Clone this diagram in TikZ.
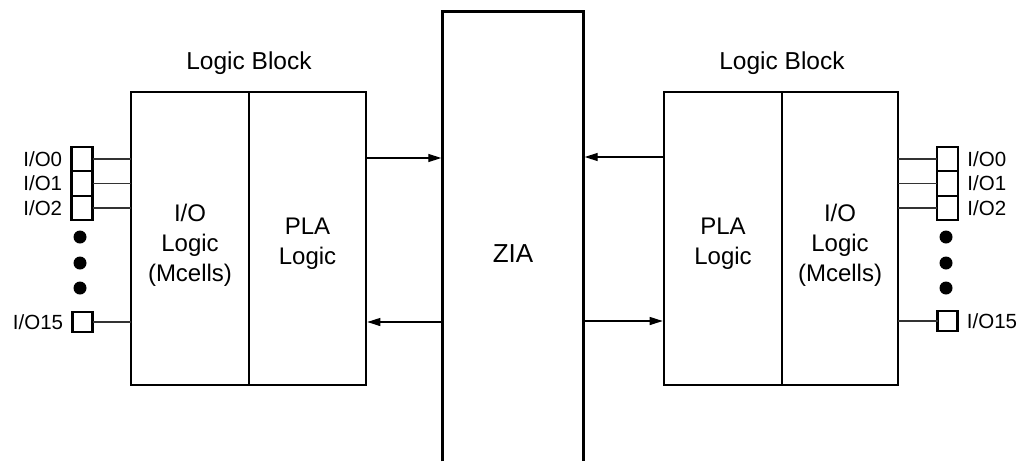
\documentclass[tikz,border=0pt]{standalone}
\usepackage{fontspec}
\setmainfont{Liberation Sans}
\usetikzlibrary{shapes, arrows.meta, positioning}

\begin{document}
\begin{tikzpicture}[x=1pt, y=-1pt, thick,
    blk/.style={rectangle, draw, line width=2.6pt, outer sep=0pt, minimum height=293pt},
    blktext/.style={align=center, font=\fontsize{24}{30}\selectfont},
    pad/.style={rectangle, draw, line width=2.4pt, outer sep=0pt, minimum width=21pt, minimum height=24.5pt, inner sep=0pt},
    iolbl/.style={inner sep=0pt, font=\fontsize{20.5}{24}\selectfont},
    wire/.style={line width=1.2pt, draw=black!80},
    arr/.style={line width=1.2pt, -{Triangle[length=13pt, width=8pt]}, shorten >=1.3pt},
    title/.style={inner sep=0pt, font=\fontsize{24.5}{30}\selectfont}]
    \useasboundingbox (0,0) rectangle (1035,461);

    % Nodes
    \node (lio) [blk, minimum width=118pt] at (190,238.5) {};
    \node (lpla) [blk, minimum width=117pt, right=0pt of lio] {};
    \node (ltitle) [title, above=17pt of lio.north east] {Logic Block};
    \node (liotext) [blktext] at ([yshift=-7pt]lio) {I/O\\Logic\\(Mcells)};
    \node (lplatext) [blktext] at ([yshift=-5pt]lpla) {PLA\\Logic};

    \node (rpla) [blk, minimum width=118pt] at (723,238.5) {};
    \node (rio) [blk, minimum width=116pt, right=0pt of rpla] {};
    \node (rtitle) [title, above=17pt of rpla.north east] {Logic Block};
    \node (rplatext) [blktext] at ([yshift=-5pt]rpla) {PLA\\Logic};
    \node (riotext) [blktext] at ([yshift=-7pt]rio) {I/O\\Logic\\(Mcells)};

    \node (zia) [rectangle, minimum width=140pt, minimum height=449pt] at (513,236.5) {};
    \node (ziatext) [font=\fontsize{26}{30}\selectfont] at (513,254) {ZIA};
    \draw[line width=2.6pt] (zia.south west) -- (zia.north west) -- (zia.north east) -- (zia.south east);

    % I/O pins, left
    \node (lp0) [pad] at (82,159) {};
    \node (lp1) [pad, below=0pt of lp0] {};
    \node (lp2) [pad, below=0pt of lp1] {};
    \node (lp15) [pad, minimum width=20pt, minimum height=20pt] at (82.5,322) {};
    \node (ll0) [iolbl, left=9pt of lp0] {I/O0};
    \node (ll1) [iolbl, left=9pt of lp1] {I/O1};
    \node (ll2) [iolbl, left=9pt of lp2] {I/O2};
    \node (ll15) [iolbl, left=9pt of lp15] {I/O15};

    % I/O pins, right
    \node (rp0) [pad] at (947.5,159) {};
    \node (rp1) [pad, below=0pt of rp0] {};
    \node (rp2) [pad, below=0pt of rp1] {};
    \node (rp15) [pad, minimum width=20pt, minimum height=20pt] at (947.5,321) {};
    \node (rl0) [iolbl, right=9pt of rp0] {I/O0};
    \node (rl1) [iolbl, right=9pt of rp1] {I/O1};
    \node (rl2) [iolbl, right=9pt of rp2] {I/O2};
    \node (rl15) [iolbl, right=9pt of rp15] {I/O15};

    % dots
    \foreach \y in {237,263,288} {
        \fill (80,\y) circle (6.5);
        \fill (946,\y) circle (6.5);
    }

    % Wires
    \foreach \p in {lp0, lp1, lp2, lp15}
        \draw[wire] (\p.east) -- (\p -| lio.west);
    \foreach \p in {rp0, rp1, rp2, rp15}
        \draw[wire] (\p.west) -- (\p -| rio.east);

    % Arrows to and from ZIA
    \coordinate (la) at ([yshift=80.5pt]lpla.east);
    \coordinate (lb) at ([yshift=-83.5pt]lpla.east);
    \coordinate (ra) at ([yshift=81.5pt]rpla.west);
    \coordinate (rb) at ([yshift=-82.5pt]rpla.west);
    \draw[arr] (la) -- (la -| zia.west);
    \draw[arr] (lb -| zia.west) -- (lb);
    \draw[arr] (ra) -- (ra -| zia.east);
    \draw[arr] (rb -| zia.east) -- (rb);

\end{tikzpicture}
\end{document}
